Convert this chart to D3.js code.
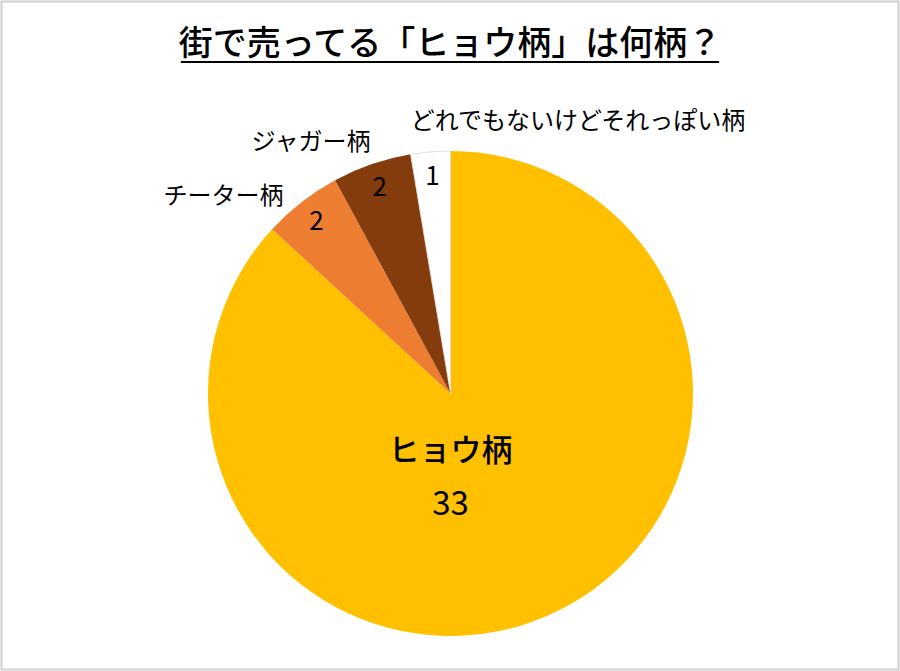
<!DOCTYPE html>
<html>
<head>
<meta charset="utf-8">
<script src="https://cdn.jsdelivr.net/npm/d3@7"></script>
<style>
  body { margin: 0; background: #fff; }
  text { font-family: "Noto Sans CJK JP", "Noto Sans", sans-serif; fill: #000; }
</style>
</head>
<body>
<script>
// data
var categories = ["ヒョウ柄", "チーター柄", "ジャガー柄", "どれでもないけどそれっぽい柄"];
var counts = [33, 2, 2, 1];
var colors = ["#FFC000", "#ED7D31", "#843C0C", "#FFFFFF"];
var title = "街で売ってる「ヒョウ柄」は何柄？";

function init() {
    var w = 900;
    var h = 671;
    var cx = 450.5, cy = 393.5, r = 242.5;

    var svg = d3.select("body")
        .append("svg")
        .attr("width", w)
        .attr("height", h);

    // frame
    svg.append("rect")
        .attr("x", 1.5).attr("y", 1.5)
        .attr("width", w - 3).attr("height", h - 3)
        .attr("fill", "#fff")
        .attr("stroke", "#cfcfcf")
        .attr("stroke-width", 2);

    // title with underline
    var t = svg.append("text")
        .attr("x", w / 2)
        .attr("y", 55)
        .attr("text-anchor", "middle")
        .attr("font-size", 34)
        .attr("font-weight", 500)
        .text(title);
    var bb = t.node().getBBox();
    svg.append("line")
        .attr("x1", bb.x + 2).attr("x2", bb.x + bb.width - 2)
        .attr("y1", 62).attr("y2", 62)
        .attr("stroke", "#000")
        .attr("stroke-width", 2);

    var data = categories.map(function (c, i) {
        return { name: c, value: counts[i], color: colors[i] };
    });

    var pie = d3.pie()
        .sort(null)
        .value(function (d) { return d.value; });

    var arc = d3.arc()
        .innerRadius(0)
        .outerRadius(r);

    var labelArc = d3.arc()
        .innerRadius(r * 0.9)
        .outerRadius(r * 0.9);

    var g = svg.append("g")
        .attr("transform", "translate(" + cx + "," + cy + ")");

    var arcs = pie(data);

    g.selectAll("path")
        .data(arcs)
        .enter()
        .append("path")
        .attr("d", arc)
        .attr("fill", function (d) { return d.data.color; })
        .attr("stroke", function (d) { return d.data.color === "#FFFFFF" ? "#d8d8d8" : "none"; })
        .attr("stroke-width", 0.8);

    // big slice: name + value inside
    var big = arcs[0];
    g.append("text")
        .attr("x", 0)
        .attr("y", 67)
        .attr("text-anchor", "middle")
        .attr("font-size", 31)
        .attr("font-weight", 500)
        .text(big.data.name);
    g.append("text")
        .attr("x", 0)
        .attr("y", 121)
        .attr("text-anchor", "middle")
        .attr("font-size", 33)
        .text(big.data.value);

    // small slices: value near the rim
    g.selectAll(".val")
        .data(arcs.slice(1))
        .enter()
        .append("text")
        .attr("class", "val")
        .attr("transform", function (d) {
            var p = labelArc.centroid(d);
            return "translate(" + p[0] + "," + p[1] + ")";
        })
        .attr("dy", "0.35em")
        .attr("text-anchor", "middle")
        .attr("font-size", 26)
        .text(function (d) { return d.value; });

    // outside category labels (offsets from the pie centre)
    var outside = [null, [-227, -198], [-139.5, -252], [127.5, -273]];
    g.selectAll(".cat")
        .data(arcs.slice(1))
        .enter()
        .append("text")
        .attr("class", "cat")
        .attr("x", function (d, i) { return outside[i + 1][0]; })
        .attr("y", function (d, i) { return outside[i + 1][1]; })
        .attr("dy", "0.35em")
        .attr("text-anchor", "middle")
        .attr("font-size", 24)
        .text(function (d) { return d.data.name; });
}

window.onload = init;
</script>
</body>
</html>
